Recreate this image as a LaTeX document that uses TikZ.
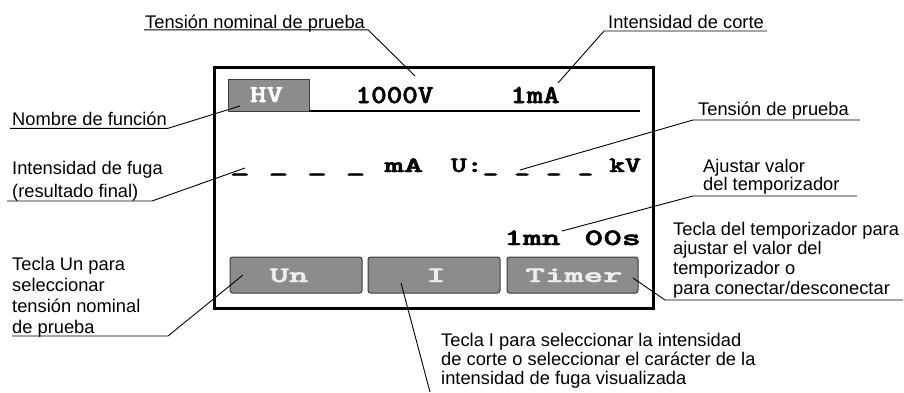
\documentclass[tikz,border=0pt]{standalone}
\usepackage{fontspec}
\setmainfont{Liberation Sans}
\newfontfamily\dispfont{lmmonolt10-bold.otf}[FakeBold=2]
\usepackage{graphicx}
\definecolor{lcdgray}{RGB}{140,140,140}
\definecolor{keytext}{RGB}{238,238,238}
\definecolor{keyedge}{RGB}{60,60,60}
\newcommand{\disp}[3]{\scalebox{#2}[1]{\fontsize{#1pt}{#1pt}\selectfont\dispfont #3}}
\newcommand{\mlines}[2]{\vtop{\baselineskip=#1\lineskiplimit=-30pt\lineskip=0pt\halign{##\hfil\cr #2\cr}}}
\tikzset{
  lbl/.style={anchor=base west, inner sep=0pt, font=\fontsize{18.3pt}{20pt}\selectfont},
  lead/.style={line width=0.9pt, line join=miter},
  keybox/.style={draw=keyedge, fill=lcdgray, rounded corners=2.5pt, line width=1pt, inner sep=0pt},
  dtxt/.style={inner sep=0pt, anchor=base},
}
\begin{document}
\begin{tikzpicture}[x=1pt,y=-1pt]
\useasboundingbox (0,0) rectangle (904,392);
\fill[white] (0,0) rectangle (904,392);

% ---------- display ----------
\node[draw, line width=3pt, minimum width=439pt, minimum height=241pt, inner sep=0pt] (frame) at (433.5,187.5) {};
\node[draw=keyedge, fill=lcdgray, line width=0.8pt, minimum width=81pt, minimum height=32pt, inner sep=0pt] (hvbox) at (268.5,95) {};
\coordinate (hl1) at (309,111);
\coordinate (hl2) at (640,111);
\draw[line width=1.3pt] (hl1) -- (hl2);

\node[dtxt, text=white] (hv) at (266.5,102) {\disp{24.5}{1.29}{HV}};
\node[dtxt] (volt) at (394.5,103) {\disp{26}{1.14}{1000V}};
\node[dtxt] (cut) at (535,103) {\disp{26}{1.2}{1mA}};

\node[dtxt, anchor=base west] (leak) at (230,172) {\disp{22}{1.67}{\_ \_ \_ \_ mA}};
\node[dtxt, anchor=base east] (utest) at (641,172) {\disp{22}{1.37}{U:\_ \_ \_ \_ kV}};
\node[dtxt, anchor=base east] (timer) at (641,245) {\disp{23.5}{1.52}{1mn~\kern3.5pt 00s}};

\node[keybox, minimum width=132pt, minimum height=36pt] (kun) at (296,275) {};
\node[keybox, minimum width=132pt, minimum height=36pt] (ki) at (434,275) {};
\node[keybox, minimum width=131pt, minimum height=36pt] (ktimer) at (572.5,275) {};
\node[dtxt, text=keytext] (kunt) at (289,282) {\disp{22}{1.68}{Un}};
\node[dtxt, text=keytext] (kit) at (436,282) {\disp{22}{1.68}{I}};
\node[dtxt, text=keytext] (ktimert) at (574,282) {\disp{22}{1.68}{Timer}};

% ---------- callouts ----------
\node[lbl] (c1) at (145,28) {Tensión nominal de prueba};
\coordinate (c1a) at (144,29.8);
\coordinate (c1b) at (368,29.8);
\coordinate (c1t) at (415,76);
\draw[lead] (c1a) -- (c1b) -- (c1t);

\node[lbl] (c2) at (608,28.5) {Intensidad de corte};
\coordinate (c2a) at (767,31);
\coordinate (c2b) at (604,31);
\coordinate (c2t) at (558,83);
\draw[lead] (c2a) -- (c2b) -- (c2t);

\node[lbl] (c3) at (12,125.5) {Nombre de función};
\coordinate (c3a) at (10,128.3);
\coordinate (c3b) at (168,128.3);
\coordinate (c3t) at (240,106);
\draw[lead] (c3a) -- (c3b) -- (c3t);

\node[lbl] (c4) at (12,174) {\mlines{23pt}{Intensidad de fuga\cr (resultado final)}};
\coordinate (c4a) at (7,201);
\coordinate (c4b) at (152,201);
\coordinate (c4t) at (245,168);
\draw[lead] (c4a) -- (c4b) -- (c4t);

\node[lbl] (c5) at (698,115.5) {Tensión de prueba};
\coordinate (c5a) at (860,120);
\coordinate (c5b) at (693,120);
\coordinate (c5t) at (520,170);
\draw[lead] (c5a) -- (c5b) -- (c5t);

\node[lbl] (c6) at (703,172) {\mlines{18pt}{Ajustar valor\cr del temporizador}};
\coordinate (c6a) at (857,196);
\coordinate (c6b) at (693,196);
\coordinate (c6t) at (562,231);
\draw[lead] (c6a) -- (c6b) -- (c6t);

\node[lbl] (c7) at (673,235) {\mlines{19.7pt}{Tecla del temporizador para\cr ajustar el valor del\cr temporizador o\cr para conectar/desconectar}};
\coordinate (c7a) at (903,300);
\coordinate (c7b) at (665,300);
\coordinate (c7t) at (633,278);
\draw[lead] (c7a) -- (c7b) -- (c7t);

\node[lbl] (c8) at (12,270) {\mlines{21pt}{Tecla Un para\cr seleccionar\cr tensión nominal\cr de prueba}};
\coordinate (c8a) at (12,336);
\coordinate (c8b) at (168,336);
\coordinate (c8t) at (243,275);
\draw[lead] (c8a) -- (c8b) -- (c8t);

\node[lbl] (c9) at (441,346.5) {\mlines{19pt}{Tecla I para seleccionar la intensidad\cr de corte o seleccionar el carácter de la\cr intensidad de fuga visualizada}};
\coordinate (c9a) at (430,392);
\coordinate (c9t) at (401,283);
\draw[lead] (c9a) -- (c9t);
\end{tikzpicture}
\end{document}
